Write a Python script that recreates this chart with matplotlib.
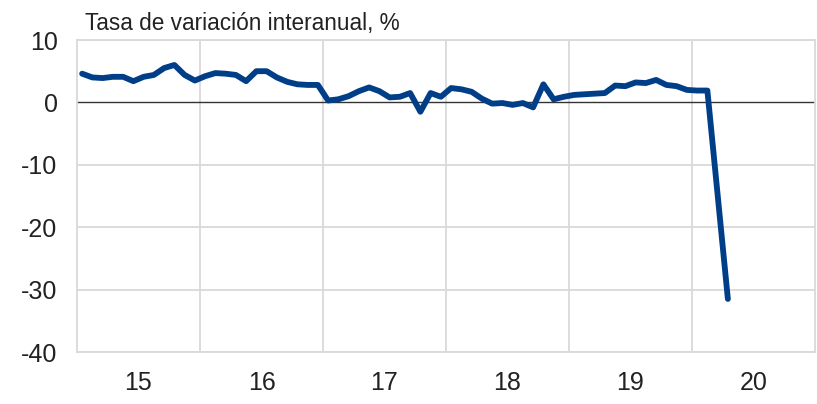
import matplotlib
matplotlib.use("Agg")
import matplotlib.pyplot as plt
import numpy as np

plt.rcParams['font.family'] = ['Liberation Sans', 'DejaVu Sans']

# Monthly values, Jan 2015 - Apr 2020
values = [4.6, 4.0, 3.9, 4.1, 4.1, 3.4, 4.1, 4.4, 5.5, 6.0, 4.4, 3.5,
          4.2, 4.7, 4.6, 4.4, 3.4, 5.0, 5.0, 4.0, 3.3, 2.9, 2.8, 2.8,
          0.3, 0.5, 1.0, 1.8, 2.4, 1.8, 0.8, 0.9, 1.5, -1.5, 1.5, 0.9,
          2.3, 2.1, 1.7, 0.6, -0.2, -0.1, -0.4, -0.1, -0.8, 2.9, 0.5, 0.9,
          1.2, 1.3, 1.4, 1.5, 2.7, 2.6, 3.2, 3.1, 3.6, 2.8, 2.6, 2.0,
          1.9, 1.9, -14.8, -31.5]
year_labels = ["15", "16", "17", "18", "19", "20"]
y_ticks = [10, 0, -10, -20, -30, -40]
title = "Tasa de variación interanual, %"

x = np.arange(len(values))

fig = plt.figure(figsize=(8.17, 4.04), dpi=100)
ax = fig.add_axes([77/817, 1-352/404, (815-77)/817, (352-40)/404])

grid_c = "#d9d9d9"
ax.set_xlim(-0.5, 71.5)
ax.set_ylim(-40, 10)

for yv in y_ticks:
    if yv != 0:
        ax.axhline(yv, color=grid_c, lw=1.3, zorder=1)
for k in range(1, len(year_labels)):
    ax.axvline(12*k - 0.5, color=grid_c, lw=1.3, zorder=1)
ax.axhline(0, color="#333333", lw=1.0, zorder=2)

ax.plot(x, values, color="#003f87", lw=4.2, solid_capstyle="round",
        solid_joinstyle="round", zorder=3)

ax.set_yticks(y_ticks)
ax.set_yticklabels([str(v) for v in y_ticks], fontsize=18)
ax.set_xticks([12*k + 5.5 for k in range(len(year_labels))])
ax.set_xticklabels(year_labels, fontsize=18)
ax.tick_params(axis='both', length=0, colors="#222222")
ax.tick_params(axis='y', pad=14)
ax.tick_params(axis='x', pad=14)

for s in ax.spines.values():
    s.set_color(grid_c)
    s.set_linewidth(1.3)

fig.text(85/817, 1-30/404, title, fontsize=16.3, color="#222222",
         ha="left", va="baseline")

fig.savefig("out.png", dpi=100)
